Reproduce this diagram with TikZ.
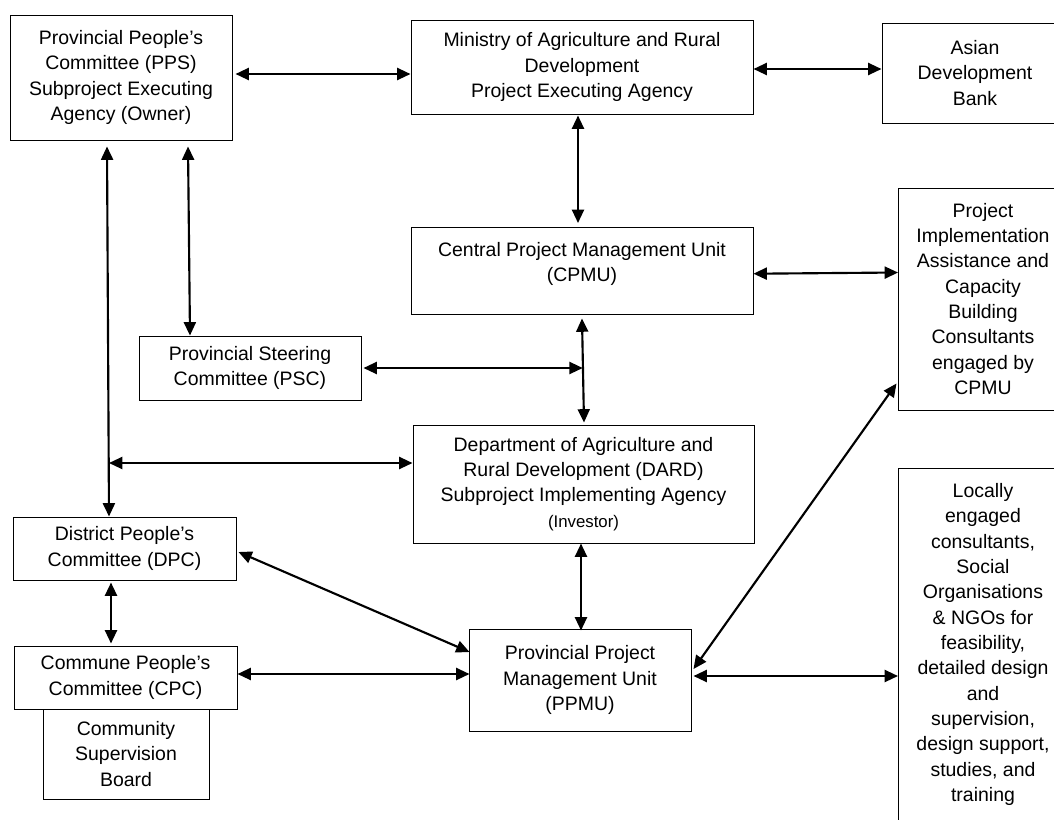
\documentclass[tikz,border=0pt]{standalone}
\usepackage{fontspec}
\setmainfont{Liberation Sans}
\usetikzlibrary{arrows.meta,calc}

\tikzset{every picture/.style={line width=0.75pt}}
\tikzset{
  unitbox/.style={draw, align=center, inner xsep=2pt, inner ysep=3pt, font=\fontsize{14.6}{19}\selectfont},
  topbox/.style={unitbox, anchor=north, inner ysep=11.25pt},
  biarrow/.style={line width=1.6pt, {Triangle[length=10pt,width=9pt]}-{Triangle[length=10pt,width=9pt]}}
}

\begin{document}
\begin{tikzpicture}[x=0.75pt,y=0.75pt,yscale=-1,xscale=1]
%set diagram size to the reference, 1054 x 819
\useasboundingbox (0,0) rectangle (1054,819);
\clip (0,0) rectangle (1054,819);

% Text Node
\node [unitbox, minimum width=166.5pt, minimum height=93.75pt] (pps) at (121,77.5) {Provincial People’s\\Committee (PPS)\\Subproject Executing\\Agency (Owner)};
% Text Node
\node [unitbox, minimum width=256.5pt, minimum height=70.5pt] (mard) at (582,67) {Ministry of Agriculture and Rural\\Development\\Project Executing Agency};
% Text Node
\node [unitbox, minimum width=139.5pt, minimum height=75pt] (adb) at (975,73) {Asian\\Development\\Bank};
% Text Node
\node [topbox, minimum width=256.5pt, text depth=13.5pt] (cpmu) at (582,227) {Central Project Management Unit\\(CPMU)};
% Text Node
\node [unitbox, minimum width=126.75pt, minimum height=166.5pt] (piacb) at (983,299) {Project\\Implementation\\Assistance and\\Capacity\\Building\\Consultants\\engaged by\\CPMU};
% Text Node
\node [unitbox, minimum width=166.5pt, minimum height=48pt] (psc) at (250,368) {Provincial Steering\\Committee (PSC)};
% Text Node
\node [unitbox, minimum width=255.75pt, minimum height=88.5pt] (dard) at (583.5,484) {Department of Agriculture and\\Rural Development (DARD)\\Subproject Implementing Agency\\{\fontsize{12.6}{15}\selectfont (Investor)}};
% Text Node
\node [unitbox, minimum width=167.25pt, minimum height=47.25pt] (dpc) at (124.5,548.5) {District People’s\\Committee (DPC)};
% Text Node
\node [unitbox, minimum width=167.25pt, minimum height=47.25pt] (cpc) at (125.5,677.5) {Commune People’s\\Committee (CPC)};
% Text Node
\node [unitbox, minimum width=124.5pt, minimum height=67.5pt] (csb) at (126,754) {Community\\Supervision\\Board};
% Text Node
\node [unitbox, minimum width=166.5pt, minimum height=76.5pt] (ppmu) at (580,680) {Provincial Project\\Management Unit\\(PPMU)};
% Text Node
\node [topbox, minimum width=126.75pt, text depth=45pt] (locally) at (983,468) {Locally\\engaged\\consultants,\\Social\\Organisations\\\& NGOs for\\feasibility,\\detailed design\\and\\supervision,\\design support,\\studies, and\\training};

%Straight Lines
\draw [biarrow] ($(pps.east)+(3,-3.5)$) -- ($(mard.west)+(0,7)$);
%Straight Lines
\draw [biarrow] ($(mard.east)+(0,2)$) -- ($(adb.west)+(0,-4)$);
%Straight Lines
\draw [biarrow] ($(mard.south)+(-4,1)$) -- ($(cpmu.north)+(-4,-4)$);
%Straight Lines
\draw [biarrow] ($(cpmu.east)+(0,2.5)$) -- ($(piacb.north west)+(0,85)$);
%Straight Lines
\draw [biarrow] ($(cpmu.south)+(0,3)$) -- ($(dard.north)+(0.5,-2)$);
\coordinate (midjoin) at ($(cpmu.south)!0.5!(dard.north)$);
%Straight Lines
\draw [biarrow] ($(psc.east)+(2,0)$) -- (midjoin |- psc.east);
%Straight Lines
\draw [biarrow] ($(pps.south)+(67,6)$) -- ($(psc.north)+(-60,0)$);
%Straight Lines
\coordinate (ltop) at ($(pps.south)+(-14,6)$);
\draw [biarrow] (ltop) -- ($(dpc.north)+(-15.5,0)$);
%Straight Lines
\draw [biarrow] ($(ltop |- dard.west)+(2,-21)$) -- ($(dard.west)+(0,-21)$);
%Straight Lines
\draw [biarrow] ($(dpc.south)+(-13.5,2)$) -- ($(cpc.north)+(-14.5,-2)$);
%Straight Lines
\draw [biarrow] ($(dpc.east)+(2,3.5)$) -- ($(ppmu.west)+(1,-28)$);
%Straight Lines
\draw [biarrow] ($(cpc.east)+(0,-3.5)$) -- ($(ppmu.west)+(1,-6)$);
%Straight Lines
\draw [biarrow] ($(dard.south)+(-2.5,0)$) -- ($(ppmu.north)+(1,2)$);
%Straight Lines
\draw [biarrow] ($(ppmu.east)+(2,-11)$) -- ($(piacb.north west)+(-1.5,196)$);
%Straight Lines
\draw [biarrow] ($(ppmu.east)+(2,-4)$) -- ($(locally.north west)+(0,208)$);

\end{tikzpicture}
\end{document}
